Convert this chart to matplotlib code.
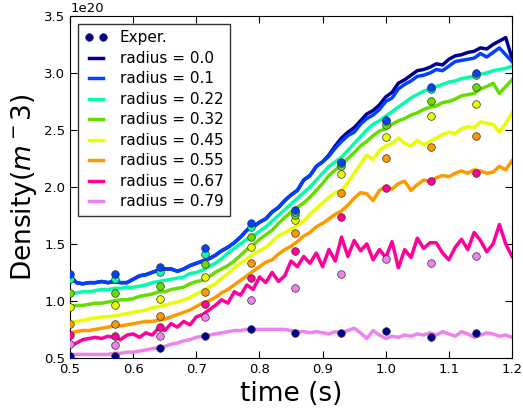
import numpy as np
import matplotlib
matplotlib.use('Agg')
import matplotlib.pyplot as plt

#%% Datos

# Tiempo de las simulaciones (s)
t_sim = np.round(np.arange(0.50, 1.2001, 0.01), 2)

radios = ['0.0', '0.1', '0.22', '0.32', '0.45', '0.55', '0.67', '0.79']
colores = ['#000090', '#0040ff', '#00ffaa', '#66dd00',
           '#e8ff00', '#ff9900', '#ff0099', '#ee82ee']

# Densidad simulada (1e20 m^-3) para cada radio
dens_r000 = [1.22, 1.16, 1.15, 1.16, 1.16, 1.17, 1.16, 1.17, 1.16, 1.16,
             1.19, 1.22, 1.23, 1.25, 1.27, 1.28, 1.28, 1.26, 1.28, 1.31,
             1.33, 1.35, 1.37, 1.40, 1.44, 1.47, 1.51, 1.56, 1.62, 1.65,
             1.69, 1.72, 1.78, 1.82, 1.88, 1.93, 1.97, 2.06, 2.10, 2.18,
             2.22, 2.28, 2.36, 2.43, 2.48, 2.52, 2.58, 2.64, 2.67, 2.72,
             2.79, 2.83, 2.91, 2.94, 2.98, 3.02, 3.03, 3.05, 3.08, 3.07,
             3.12, 3.15, 3.16, 3.18, 3.19, 3.22, 3.21, 3.25, 3.28, 3.31,
             3.13]
dens_r010 = [1.22, 1.16, 1.15, 1.16, 1.16, 1.17, 1.16, 1.17, 1.16, 1.16,
             1.19, 1.22, 1.23, 1.25, 1.27, 1.28, 1.28, 1.26, 1.28, 1.31,
             1.33, 1.35, 1.37, 1.40, 1.44, 1.47, 1.51, 1.56, 1.62, 1.65,
             1.69, 1.72, 1.78, 1.82, 1.88, 1.93, 1.97, 2.06, 2.10, 2.18,
             2.22, 2.27, 2.34, 2.40, 2.45, 2.48, 2.55, 2.60, 2.63, 2.68,
             2.75, 2.78, 2.86, 2.90, 2.93, 2.97, 2.98, 3.00, 3.03, 3.02,
             3.06, 3.10, 3.11, 3.12, 3.13, 3.17, 3.14, 3.18, 3.22, 3.16,
             3.10]
dens_r022 = [1.07, 1.07, 1.08, 1.08, 1.09, 1.10, 1.10, 1.11, 1.11, 1.12,
             1.12, 1.13, 1.14, 1.16, 1.17, 1.18, 1.19, 1.20, 1.21, 1.24,
             1.25, 1.27, 1.30, 1.33, 1.37, 1.42, 1.46, 1.50, 1.54, 1.57,
             1.61, 1.65, 1.70, 1.75, 1.80, 1.85, 1.90, 1.95, 2.00, 2.06,
             2.12, 2.18, 2.22, 2.26, 2.32, 2.38, 2.44, 2.50, 2.55, 2.58,
             2.62, 2.66, 2.70, 2.74, 2.78, 2.81, 2.84, 2.86, 2.88, 2.90,
             2.92, 2.93, 2.95, 2.96, 2.97, 2.99, 3.00, 3.02, 3.03, 3.04,
             3.06]
dens_r032 = [0.95, 0.96, 0.96, 0.97, 0.98, 0.98, 0.99, 1.00, 1.01, 1.01,
             1.02, 1.04, 1.05, 1.06, 1.08, 1.08, 1.10, 1.11, 1.12, 1.15,
             1.17, 1.18, 1.21, 1.25, 1.28, 1.31, 1.35, 1.40, 1.45, 1.49,
             1.54, 1.58, 1.62, 1.68, 1.73, 1.78, 1.82, 1.86, 1.91, 1.97,
             2.03, 2.10, 2.15, 2.19, 2.25, 2.30, 2.36, 2.40, 2.45, 2.49,
             2.51, 2.55, 2.58, 2.60, 2.63, 2.65, 2.68, 2.70, 2.71, 2.74,
             2.75, 2.77, 2.80, 2.81, 2.82, 2.86, 2.88, 2.91, 2.82, 2.88,
             2.94]
dens_r045 = [0.81, 0.82, 0.83, 0.84, 0.85, 0.86, 0.86, 0.87, 0.88, 0.89,
             0.90, 0.91, 0.92, 0.94, 0.95, 0.96, 0.98, 0.99, 1.01, 1.03,
             1.06, 1.09, 1.12, 1.15, 1.20, 1.24, 1.29, 1.33, 1.37, 1.41,
             1.44, 1.47, 1.52, 1.57, 1.60, 1.63, 1.66, 1.70, 1.76, 1.81,
             1.86, 1.91, 1.95, 1.97, 2.04, 2.12, 2.20, 2.28, 2.24, 2.32,
             2.36, 2.38, 2.43, 2.38, 2.36, 2.41, 2.37, 2.40, 2.43, 2.46,
             2.48, 2.47, 2.51, 2.53, 2.52, 2.57, 2.56, 2.55, 2.48, 2.56,
             2.65]
dens_r055 = [0.72, 0.73, 0.74, 0.74, 0.75, 0.76, 0.77, 0.78, 0.78, 0.79,
             0.80, 0.81, 0.82, 0.82, 0.83, 0.84, 0.86, 0.88, 0.90, 0.92,
             0.95, 0.98, 1.00, 1.03, 1.07, 1.10, 1.14, 1.18, 1.22, 1.26,
             1.30, 1.34, 1.36, 1.41, 1.45, 1.48, 1.52, 1.57, 1.60, 1.65,
             1.68, 1.72, 1.76, 1.79, 1.84, 1.90, 1.95, 1.94, 1.88, 1.97,
             2.00, 1.98, 2.03, 2.05, 1.97, 2.02, 2.06, 2.05, 2.08, 2.10,
             2.09, 2.12, 2.14, 2.12, 2.15, 2.14, 2.12, 2.13, 2.18, 2.15,
             2.23]
dens_r067 = [0.60, 0.63, 0.66, 0.67, 0.68, 0.67, 0.69, 0.68, 0.66, 0.70,
             0.71, 0.68, 0.72, 0.70, 0.76, 0.74, 0.80, 0.77, 0.82, 0.79,
             0.86, 0.88, 0.92, 0.96, 1.01, 0.98, 1.08, 1.05, 1.14, 1.10,
             1.21, 1.16, 1.25, 1.17, 1.22, 1.35, 1.30, 1.39, 1.33, 1.42,
             1.30, 1.45, 1.35, 1.56, 1.39, 1.53, 1.44, 1.50, 1.36, 1.45,
             1.38, 1.52, 1.29, 1.45, 1.38, 1.55, 1.46, 1.51, 1.51, 1.42,
             1.36, 1.47, 1.54, 1.45, 1.60, 1.53, 1.43, 1.50, 1.67, 1.50,
             1.39]
dens_r079 = [0.53, 0.53, 0.53, 0.53, 0.53, 0.53, 0.53, 0.54, 0.54, 0.55,
             0.55, 0.56, 0.57, 0.58, 0.59, 0.60, 0.62, 0.63, 0.65, 0.66,
             0.68, 0.69, 0.70, 0.71, 0.72, 0.73, 0.74, 0.74, 0.75, 0.75,
             0.75, 0.75, 0.75, 0.75, 0.75, 0.74, 0.73, 0.73, 0.72, 0.73,
             0.72, 0.71, 0.73, 0.72, 0.74, 0.76, 0.72, 0.67, 0.74, 0.70,
             0.67, 0.69, 0.68, 0.70, 0.69, 0.71, 0.70, 0.72, 0.70, 0.73,
             0.71, 0.69, 0.73, 0.71, 0.68, 0.70, 0.72, 0.71, 0.69, 0.70,
             0.68]

# Datos experimentales (1e20 m^-3)
t_exp = [0.5, 0.571, 0.643, 0.714, 0.786, 0.857, 0.929, 1.0, 1.071, 1.143]
exp_a = [0.52, 0.52, 0.59, 0.69, 0.75, 0.72, 0.72, 0.74, 0.68, 0.72]
exp_b = [0.62, 0.61, 0.69, 0.86, 1.01, 1.11, 1.24, 1.37, 1.33, 1.39]
exp_c = [0.70, 0.69, 0.77, 0.97, 1.20, 1.44, 1.74, 1.99, 2.05, 2.12]
exp_d = [0.80, 0.80, 0.87, 1.08, 1.33, 1.60, 1.95, 2.25, 2.35, 2.45]
exp_e = [0.95, 0.96, 1.02, 1.21, 1.47, 1.71, 2.11, 2.44, 2.62, 2.73]
exp_f = [1.07, 1.07, 1.13, 1.32, 1.56, 1.75, 2.18, 2.54, 2.75, 2.88]
exp_g = [1.19, 1.19, 1.25, 1.41, 1.65, 1.78, 2.21, 2.58, 2.86, 2.98]
exp_h = [1.24, 1.24, 1.30, 1.46, 1.68, 1.80, 2.22, 2.59, 2.88, 3.00]

densidades = [dens_r000, dens_r010, dens_r022, dens_r032,
              dens_r045, dens_r055, dens_r067, dens_r079]
experimentos = [exp_a, exp_b, exp_c, exp_d, exp_e, exp_f, exp_g, exp_h]
# Colores de los puntos (desplazados uno respecto a las curvas)
col_exp = [colores[0]] + colores[:0:-1]

#%% Grafico

fig = plt.figure(figsize=(5.23, 4.09), dpi=100)
ax = fig.add_axes([0.134, 0.125, 0.845, 0.836])

lineas = []
for i, dens in enumerate(densidades):
    l, = ax.plot(t_sim, np.array(dens) * 1e20, '-', color=colores[i], lw=2.5,
                 label='radius = ' + radios[i])
    lineas.append(l)

puntos = []
for j, dat in enumerate(experimentos):
    p, = ax.plot(t_exp, np.array(dat) * 1e20, 'o', color=col_exp[j], ms=5.5,
                 mec='#333333', mew=0.5, zorder=5, label='Exper.')
    puntos.append(p)

ax.set_xlim(0.5, 1.2)
ax.set_ylim(0.5e20, 3.5e20)
ax.tick_params(direction='in', top=True, right=True, labelsize=9.5,
               length=5)
ax.set_xlabel('time (s)', fontsize=19)
ax.set_ylabel('Density$(m^-3)$', fontsize=19)
ax.yaxis.get_offset_text().set_fontsize(9.5)

leg = ax.legend([puntos[0]] + lineas, ['Exper.'] + ['radius = ' + r for r in radios],
                loc='upper left', fontsize=11, numpoints=2, fancybox=False,
                handlelength=1.5, handletextpad=0.8, labelspacing=0.36,
                borderaxespad=0.5, borderpad=0.45)
leg.get_frame().set_edgecolor('black')
leg.get_frame().set_linewidth(1.0)

fig.savefig('out.png', dpi=100)
